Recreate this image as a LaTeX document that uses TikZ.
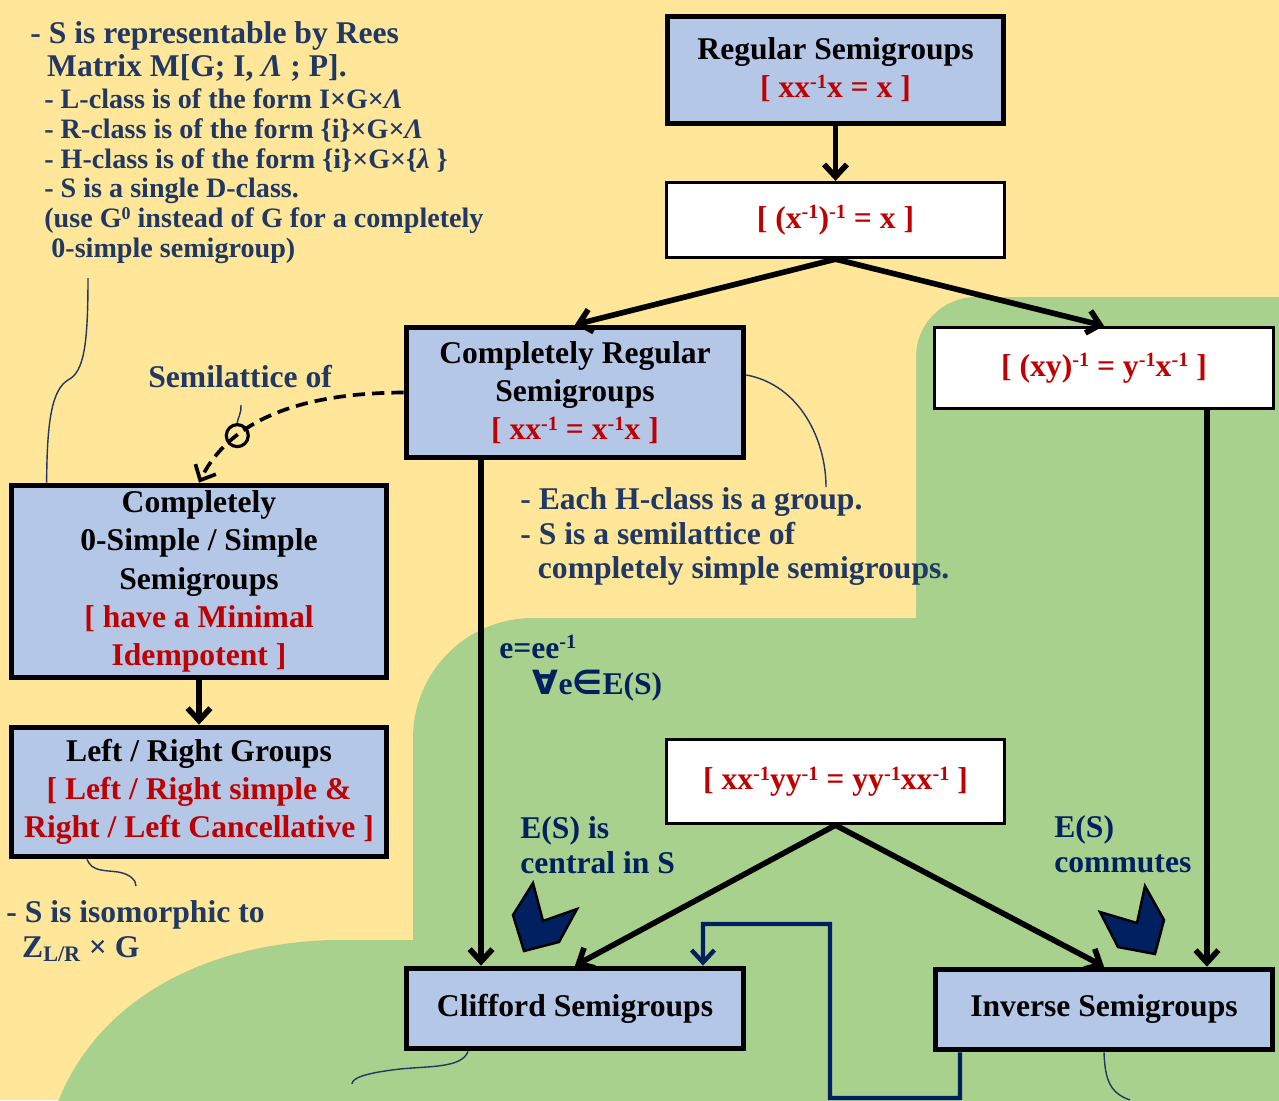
\documentclass[tikz,border=0pt]{standalone}
\usepackage{fontspec}
\setmainfont{Liberation Serif}
\newfontfamily\symbfont{DejaVu Sans}
\usetikzlibrary{arrows.meta}

\definecolor{paper}{HTML}{FFE699}
\definecolor{meadow}{HTML}{A9D18E}
\definecolor{boxblue}{HTML}{B4C7E7}
\definecolor{lawred}{HTML}{C00000}
\definecolor{inknavy}{HTML}{1F3864}
\definecolor{deepnavy}{HTML}{002060}

\newcommand{\invsup}{\raisebox{0.3em}{\scalebox{0.64}{-1}}}

\tikzset{
	classbox/.style={draw, fill=boxblue, line width=3.3pt, align=center, inner sep=0pt,
		font=\bfseries\fontsize{18}{21.7}\selectfont},
	lawbox/.style={draw, fill=white, line width=1.9pt, align=center, inner sep=0pt, text=lawred,
		font=\bfseries\fontsize{18}{21.7}\selectfont},
	note/.style={anchor=north west, align=left, inner sep=0pt, text=inknavy,
		font=\bfseries\fontsize{18}{19.8}\selectfont},
	lead/.style={inknavy, line width=0.8pt},
	flow/.style={->, line width=3.2pt},
}

\begin{document}
\begin{tikzpicture}[x=0.02cm, y=-0.02cm, >={Straight Barb[length=7pt,width=13pt]}]
	\clip (0,0) rectangle (1279,1100);
	\fill[paper] (0,0) rectangle (1279,1100);
	% green area
	\fill[meadow] (1290,297) -- (976,297) arc[start angle=90, end angle=180, radius=1.2cm]
		-- (916,618) -- (533,618) arc[start angle=90, end angle=180, radius=2.4cm]
		-- (413,940) -- (330,940) .. controls (190,945) and (90,1010) .. (55,1110)
		-- (1290,1110) -- cycle;

	\node[classbox, minimum width=6.72cm, minimum height=2.14cm] (regular) at (835.5,70)
		{Regular Semigroups\\{\color{lawred}[ xx\invsup x = x ]}};
	\node[lawbox, minimum width=6.76cm, minimum height=1.5cm] (invinv) at (835.5,220)
		{[ (x\invsup)\invsup{} = x ]};
	\node[classbox, minimum width=6.74cm, minimum height=2.6cm] (compreg) at (575,392.5)
		{Completely Regular\\Semigroups\\{\color{lawred}[ xx\invsup{} = x\invsup x ]}};
	\node[lawbox, minimum width=6.78cm, minimum height=1.62cm] (prodinv) at (1104,368)
		{[ (xy)\invsup{} = y\invsup x\invsup{} ]};
	\node[classbox, minimum width=7.5cm, minimum height=3.84cm] (compsimple) at (199,581.5)
		{Completely\\0-Simple / Simple\\Semigroups\\{\color{lawred}[ have a Minimal}\\{\color{lawred}Idempotent ]}};
	\node[classbox, minimum width=7.5cm, minimum height=2.58cm] (lrgroups) at (199,792)
		{Left / Right Groups\\{\color{lawred}[ Left / Right simple \&}\\{\color{lawred}Right / Left Cancellative ]}};
	\node[lawbox, minimum width=6.76cm, minimum height=1.68cm] (idemcomm) at (835.5,781.5)
		{[ xx\invsup yy\invsup{} = yy\invsup xx\invsup{} ]};
	\node[classbox, minimum width=6.74cm, minimum height=1.6cm] (clifford) at (575,1008.5)
		{Clifford Semigroups};
	\node[classbox, minimum width=6.74cm, minimum height=1.6cm] (inverse) at (1104,1009.5)
		{Inverse Semigroups};

	\draw[flow] (regular) -- (invinv);
	\draw[flow] (invinv.south) -- (compreg.north);
	\draw[flow] (invinv.south) -- (prodinv.north);
	\draw[flow] ([xshift=-1.88cm]compreg.south) -- ([xshift=-1.88cm]clifford.north);
	\draw[flow] ([xshift=2.06cm]prodinv.south) -- ([xshift=2.06cm]inverse.north);
	\draw[flow] (compsimple) -- (lrgroups);
	\draw[flow] (idemcomm.south) -- (clifford.north);
	\draw[flow] (idemcomm.south) -- (inverse.north);
	\draw[->, deepnavy, line width=2.5pt] ([xshift=-2.88cm]inverse.south) |- (830,1098) |- (703,924)
		-- ([xshift=2.56cm]clifford.north);

	\draw[->, dash pattern=on 7pt off 4pt, line width=2.1pt] (compreg.west) .. controls (300,393) and (230,420) .. (compsimple.north)
		node[pos=0.7, solid, circle, draw, line width=1.8pt, minimum size=0.44cm, inner sep=0pt] (hub) {};

	\filldraw[fill=deepnavy, line width=1.4pt] (533,883) -- (513,915) -- (524,951) -- (559,942) -- (577,909) -- (543,921) -- cycle;
	\filldraw[fill=deepnavy, line width=1.4pt] (1145,886) -- (1164,920) -- (1155,954) -- (1118,947) -- (1100,912) -- (1137,923) -- cycle;

	\node[note, font=\bfseries\fontsize{18}{18.7}\selectfont] (reesa) at (30,20)
		{\strut- S is representable by Rees\\\hspace*{9.6pt}Matrix M[G; I, {\itshape Λ} ; P].};
	\node[note, font=\bfseries\fontsize{16}{17}\selectfont] (reesb) at (44,87)
		{\strut- L-class is of the form I×G×{\itshape Λ}\\- R-class is of the form \{i\}×G×{\itshape Λ}\\- H-class is of the form \{i\}×G×\{{\itshape λ} \}\\- S is a single D-class.\\(use G\raisebox{0.3em}{\scalebox{0.64}{0}} instead of G for a completely\\\hspace*{4pt}0-simple semigroup)};
	\node[note] (semilab) at (148,362.5) {\strut Semilattice of};
	\node[note] (hclass) at (520,484.5)
		{\strut- Each H-class is a group.\\- S is a semilattice of\\\hspace*{10pt}completely simple semigroups.};
	\node[note, text=deepnavy] (eqnote) at (499,633.5)
		{\strut e=ee\invsup\\\hspace*{19pt}{\symbfont\fontsize{19}{19.8}\selectfont ∀}e{\symbfont\fontsize{19}{19.8}\selectfont ∈}E(S)};
	\node[note, text=deepnavy] (central) at (520,813.5) {\strut E(S) is\\central in S};
	\node[note, text=deepnavy] (commute) at (1054,812.5) {\strut E(S)\\commutes};
	\node[note] (isonote) at (6,897.5) {\strut- S is isomorphic to\\\hspace*{9pt}Z\textsubscript{L/R} × G};

	% leader lines
	\draw[lead] (88,278) .. controls (88,345) and (84,372) .. (68,380) .. controls (52,390) and (47,420) .. ([xshift=0.76cm]compsimple.north west);
	\draw[lead] (hub.north) .. controls (237,420) and (242,412) .. (241,405);
	\draw[lead] ([yshift=0.35cm]compreg.east) .. controls (800,385) and (826,440) .. (826,487);
	\draw[lead] ([xshift=-2.24cm]lrgroups.south) .. controls (92,872) and (105,870) .. (118,872) .. controls (130,874) and (136,880) .. (136,886);
	\draw[lead] ([xshift=-2.14cm]clifford.south) .. controls (462,1068) and (430,1066) .. (400,1069) .. controls (365,1073) and (352,1078) .. (352,1084);
	\draw[lead] (inverse.south) .. controls (1105,1080) and (1110,1093) .. (1130,1100);
\end{tikzpicture}
\end{document}
